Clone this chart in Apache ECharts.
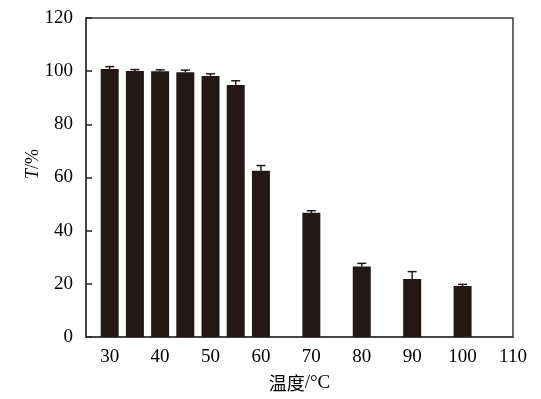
<!DOCTYPE html>
<html><head><meta charset="utf-8">
<script src="https://cdn.jsdelivr.net/npm/echarts@6/dist/echarts.min.js"></script>
<style>html,body{margin:0;padding:0;background:#fff}#c{width:541px;height:399px}</style>
</head><body><div id="c"></div>
<script>
const temps = [30, 35, 40, 45, 50, 55, 60, 70, 80, 90, 100];
const transmittance = [100.8, 100.1, 100.0, 99.6, 98.2, 94.8, 62.5, 46.7, 26.5, 21.8, 19.2];
const errorUpper = [101.7, 100.6, 100.5, 100.4, 99.0, 96.4, 64.5, 47.5, 27.7, 24.6, 19.8];
const xTicks = [30, 40, 50, 60, 70, 80, 90, 100, 110];
const yTicks = [0, 20, 40, 60, 80, 100, 120];

const font = '"Liberation Serif", "Times New Roman", serif';
const cjk = '"Noto Sans CJK SC", sans-serif';
const chart = echarts.init(document.getElementById('c'), null, {renderer: 'canvas'});
chart.setOption({
  animation: false,
  backgroundColor: '#fff',
  grid: {left: 86, right: 28, top: 18, bottom: 62, show: true, borderColor: '#3a3a3a', borderWidth: 1.5},
  xAxis: {
    type: 'value', min: 25.3, max: 110,
    axisLine: {show: true, lineStyle: {color: '#3a3a3a', width: 1.5}},
    axisTick: {show: false},
    splitLine: {show: false},
    axisLabel: {customValues: xTicks, color: '#000', fontFamily: font, fontSize: 19, margin: 11},
    name: '{c|温度}{s|/°C}', nameLocation: 'middle', nameGap: 37,
    nameTextStyle: {
      color: '#000', fontSize: 18,
      rich: {
        c: {fontFamily: cjk, fontSize: 18, color: '#000'},
        s: {fontFamily: font, fontSize: 19, color: '#000'}
      }
    }
  },
  yAxis: {
    type: 'value', min: 0, max: 120, interval: 20,
    axisLine: {show: true, lineStyle: {color: '#3a3a3a', width: 1.5}},
    axisTick: {show: true, inside: true, length: 6, lineStyle: {color: '#222', width: 1.5}},
    splitLine: {show: false},
    axisLabel: {color: '#000', fontFamily: font, fontSize: 19, margin: 13}
  },
  graphic: [{
    type: 'text', x: 33, y: 164, rotation: Math.PI / 2,
    style: {
      text: '{i|T}{n|/%}', align: 'center', verticalAlign: 'middle',
      rich: {
        i: {fontStyle: 'italic', fontFamily: font, fontSize: 18, fill: '#000'},
        n: {fontFamily: font, fontSize: 18, fill: '#000'}
      },
      fontFamily: font, fontSize: 18, fill: '#000'
    }
  }],
  series: [{
    type: 'bar',
    data: temps.map((t, i) => [t, transmittance[i]]),
    barWidth: 18,
    itemStyle: {color: '#231815'}
  }, {
    type: 'custom',
    data: temps.map((t, i) => [t, transmittance[i], errorUpper[i]]),
    renderItem: function (params, api) {
      const base = api.coord([api.value(0), api.value(1)]);
      const top = api.coord([api.value(0), api.value(2)]);
      const hw = 4.5;
      return {
        type: 'group',
        children: [
          {type: 'line', shape: {x1: base[0], y1: base[1], x2: top[0], y2: top[1]}, style: {stroke: '#231815', lineWidth: 1.5}},
          {type: 'line', shape: {x1: top[0] - hw, y1: top[1], x2: top[0] + hw, y2: top[1]}, style: {stroke: '#231815', lineWidth: 1.5}}
        ]
      };
    },
    z: 3
  }]
});
</script></body></html>
